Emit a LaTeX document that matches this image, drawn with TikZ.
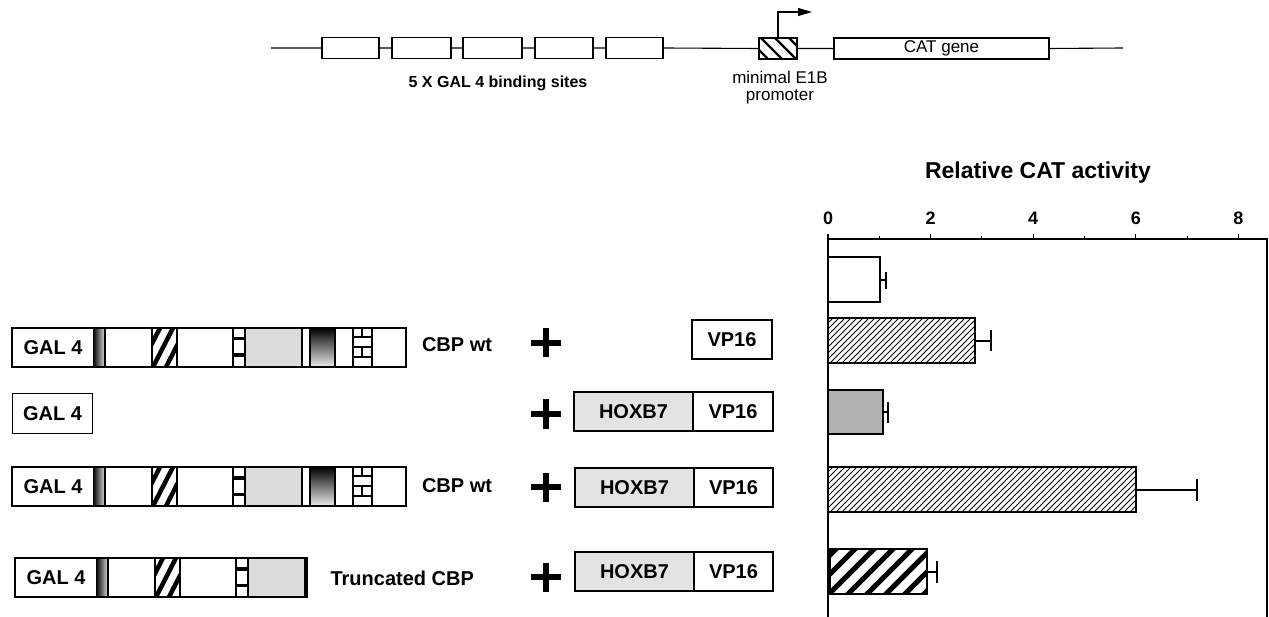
\documentclass[tikz,border=0pt]{standalone}
\usepackage{fontspec}
\setmainfont{Liberation Sans}
\usetikzlibrary{arrows.meta}
\newcommand\hatchrect[6]{% x1 y1 x2 y2 spacing linewidth ; "/" direction
  \begin{scope}
    \clip (#1,#2) rectangle (#3,#4);
    \foreach \i in {0,...,70} {\draw[line width=#6] ({#1-60+\i*#5},{#4+2}) -- ++(64,-64);}
  \end{scope}}
\newcommand\cbpbase{%
  \shade[left color=black, right color=gray!25] (81,0) rectangle (93,39);
  \begin{scope}
    \clip (140,0) rectangle (165,39);
    \foreach \a in {-26,-13,0,13,26} {\draw[line width=4.5pt] (140+\a,41) -- (162+\a,-2);}
  \end{scope}
  \fill (221,9) rectangle (233,12.5);
  \fill (221,25.5) rectangle (233,29);
  \fill[gray!28] (233,0) rectangle (290,39);
  \foreach \x in {93,140,165,221,233,290} {\draw (\x,0) -- (\x,39);}
}
\tikzset{
  galbox/.style={draw, line width=1.2pt, inner sep=0, minimum width=81, minimum height=39,
    font=\fontsize{20}{24}\selectfont\bfseries},
  gbox/.style={draw, line width=1.1pt, inner sep=0, minimum height=21},
  fbox/.style={draw, line width=1.1pt, inner sep=0, minimum height=39,
    font=\fontsize{20}{24}\selectfont\bfseries},
  lbl/.style={inner sep=0, font=\fontsize{20}{24}\selectfont\bfseries},
  plus/.style={minimum width=30, minimum height=29, inner sep=0,
    path picture={\draw[line width=6pt] (path picture bounding box.north) -- (path picture bounding box.south);
                  \draw[line width=6pt] (path picture bounding box.west) -- (path picture bounding box.east);}},
  ticklbl/.style={inner sep=0, font=\fontsize{18}{20}\selectfont\bfseries},
  cbpfull/.pic={
    \cbpbase
    \shade[top color=black, bottom color=gray!15] (298,0) rectangle (323,39);
    \foreach \x in {298,323,341,360} {\draw (\x,0) -- (\x,39);}
    \draw (341,9) -- (360,9) (341,19) -- (360,19) (341,29) -- (360,29);
    \draw (350,0) -- (350,9) (350,19) -- (350,29);
    \draw (0,0) rectangle (394,39);
    \node[galbox, anchor=north west] (-gal) at (0,0) {GAL 4};
  },
  cbptrunc/.pic={
    \cbpbase
    \draw (0,0) rectangle (292,39);
    \draw[line width=2.2pt] (291,0) -- (291,39);
    \node[galbox, anchor=north west] (-gal) at (0,0) {GAL 4};
  },
}
\begin{document}
\begin{tikzpicture}[x=1pt,y=-1pt,line width=1.1pt]
\useasboundingbox (0,0) rectangle (1269,617);

% ---------- reporter construct ----------
\node[gbox, minimum width=57] (b1) at (350.5,48) {};
\node[gbox, minimum width=59] (b2) at (421.5,48) {};
\node[gbox, minimum width=59] (b3) at (492.5,48) {};
\node[gbox, minimum width=58] (b4) at (564,48) {};
\node[gbox, minimum width=57] (b5) at (634.5,48) {};
\begin{scope}
  \clip (759,38) rectangle (797,59);
  \foreach \a in {-14,0,14,28} {\draw[line width=2.4pt] (759+\a,36) -- ++(25,25);}
\end{scope}
\node[gbox, minimum width=38] (prom) at (778,48.5) {};
\node[gbox, minimum width=215, font=\fontsize{17}{20}\selectfont] (cat) at (941.5,48.5) {CAT gene};
\coordinate (lstart) at (271,48);
\coordinate (lend) at (1123,48);
\draw (lstart) -- (b1.west) (b1.east) -- (b2.west) (b2.east) -- (b3.west) (b3.east) -- (b4.west)
      (b4.east) -- (b5.west) (b5.east) -- (prom.west) (prom.east) -- (cat.west) (cat.east) -- (lend);
\coordinate (arrend) at (812,12);
\draw[-{Triangle[length=14pt,width=8pt]}] (prom.north) |- (arrend);
\node[inner sep=0, font=\fontsize{16}{19}\selectfont\bfseries] (sites) at (498,83) {5 X GAL 4 binding sites};
\node[inner sep=0, align=center, font=\fontsize{17}{17}\selectfont] (promlbl) at (780,88) {minimal E1B\\promoter};

% ---------- constructs ----------
\pic (r1) at (12,328) {cbpfull};
\node[galbox, anchor=north west, minimum width=80, minimum height=40] (r2gal) at (12,393) {GAL 4};
\pic (r3) at (12,467) {cbpfull};
\pic (r4) at (15,558) {cbptrunc};

\node[lbl] (l1) at (457,345) {CBP wt};
\node[lbl] (l3) at (457,486) {CBP wt};
\node[lbl, anchor=west] (l4) at (330,578) {Truncated CBP};

\node[plus] (p1) at (546,343) {};
\node[plus] (p2) at (546,414) {};
\node[plus] (p3) at (546,487) {};
\node[plus] (p4) at (546,577) {};

\node[fbox, minimum width=80] (vp1) at (732,339.5) {VP16};
\node[fbox, minimum width=119, fill=gray!22] (hx2) at (633.5,411.5) {HOXB7};
\node[fbox, minimum width=80] (vp2) at (733,411.5) {VP16};
\node[fbox, minimum width=119, fill=gray!22] (hx3) at (634.5,487.5) {HOXB7};
\node[fbox, minimum width=79] (vp3) at (733.5,487.5) {VP16};
\node[fbox, minimum width=119, fill=gray!22] (hx4) at (634.5,571.5) {HOXB7};
\node[fbox, minimum width=79] (vp4) at (733.5,571.5) {VP16};

% ---------- chart ----------
\node[inner sep=0, font=\fontsize{23}{27}\selectfont\bfseries] (title) at (1038,173) {Relative CAT activity};
\draw (828,617) -- (828,239) -- (1267,239) -- (1267,617);
\foreach \v in {0,2,4,6,8} {
  \draw (828+51.3*\v,239) -- ++(0,-5);
  \node[ticklbl] (t\v) at (828+51.3*\v,218) {\v};
}
\foreach \v in {1,3,5,7} {\draw (828+51.3*\v,239) -- ++(0,-3);}

% bar 1
\draw (828,257) rectangle (880,302);
\draw (880,280) -- (886,280) (886,272) -- (886,289);
% bar 2
\hatchrect{828}{318}{975}{363}{6}{0.8pt}
\draw (828,318) rectangle (975,363);
\draw (975,341) -- (991,341) (991,330) -- (991,351);
% bar 3
\fill[gray!60] (828,390) rectangle (883,434);
\draw[line width=1.4pt] (828,390) rectangle (883,434);
\draw (883,412) -- (888,412) (888,402) -- (888,423);
% bar 4
\hatchrect{828}{467}{1136}{512}{6}{0.8pt}
\draw (828,467) rectangle (1136,512);
\draw (1136,490) -- (1197,490) (1197,479) -- (1197,501);
% bar 5
\hatchrect{830}{549}{927}{594}{19}{5pt}
\draw (830,549) rectangle (927,594);
\draw (927,572) -- (937,572) (937,561) -- (937,583);
\end{tikzpicture}
\end{document}
